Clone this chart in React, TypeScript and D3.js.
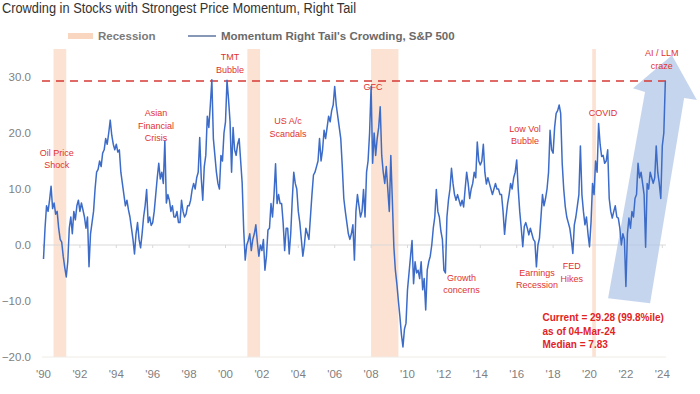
import React, { useEffect, useRef } from 'react';
import * as d3 from 'd3';

// monthly readings, Jan 1990 .. Mar 2024
const startYear = 1990;
const crowding = [
  // 1990
  -2.5, 3, 7, 6, 8, 10.5, 6.5, 7.5, 5.5, 6, 3, 1,
  // 1991
  0.5, -2, -4, -5.7, -3, 3, 5, 2, 6, 4.5, 7, 8,
  // 1992
  6, 7.5, 6.3, 5, 3, 5, -3.9, 2, 4, 6, 10, 13,
  // 1993
  13.5, 15, 14, 16.4, 17, 19, 18, 20, 22.3, 19.6, 18, 17,
  // 1994
  18, 16.6, 17, 13, 11, 9, 7, 8, 6.3, 5, 3, 1,
  // 1995
  -1.6, 2, 4, 1, -0.5, 2, 5, 7, 9.9, 4, 5, 3.5,
  // 1996
  4, 6, 9, 12, 14.6, 11.8, 13, 11, 18.6, 7.5, 9, 8,
  // 1997
  6, 7, 5, 5, 6, 4, 4, 8, 6, 5, 5.5, 7,
  // 1998
  7, 8, 9.9, 11, 10, 12, 13, 19.2, 12, 8, 14, 16,
  // 1999
  23, 21, 25, 29.5, 19, 16, 13, 11, 10, 16, 15, 20,
  // 2000
  22, 29.4, 26, 22, 13, 21, 17, 16, 18, 19, 15, 11,
  // 2001
  2.7, -2.7, 0, 0.8, 2, -1, 1, 2, 3.6, 0.5, -2, 0,
  // 2002
  -1, 1, -4.5, -2, 2.7, 3, 7.4, 5, 9, 14.5, 7.4, 9,
  // 2003
  7.4, 7.4, 4, -1, 3, 3, -1.6, 2, 8, 13, 11, 10,
  // 2004
  6, 4, 1, -2, 0, 3, 2, 1, 5, 9, 12.5, 13,
  // 2005
  14, 15, 19, 15, 17, 20.5, 19, 21, 23, 22, 24, 25,
  // 2006
  28.3, 25, 23, 21, 19, 14, 8.3, 6, 4, 2, 1, 2,
  // 2007
  3.6, -2.7, 6, 9, 7, 5, 6, 9.9, 5, 13, 15, 20,
  // 2008
  28.3, 14.6, 20, 16, 19, 21, 24.7, 16, 13, 11, 14, 10,
  // 2009
  6, 16, 8, -0.3, -4.5, -7, -10, -12.8, -16, -18.2, -15, -14,
  // 2010
  -8, -5, -2, 0.8, -6.9, -3, -5, -4.5, -6, -3, -8, -6,
  // 2011
  -11.6, -4.5, -3, -2, 0, 3, 5, 9.9, 6, 5, 2.5, 1,
  // 2012
  -4.5, -5, 5, 8, 10, 13.7, 11, 9, 8, 9, 8, 7,
  // 2013
  8, 6.8, 10, 13, 11, 8.3, 10, 11, 13, 12, 18.4, 15,
  // 2014
  14.3, 15, 18, 13, 10.9, 12, 11, 10, 9, 10, 11, 10,
  // 2015
  10, 9, 9, 6, 1.9, 5, 7.4, 9, 11, 10, 12, 13,
  // 2016
  15.2, 10, 6, 3, -0.3, 3.3, 4, 3, 1.8, 3, 2, 1,
  // 2017
  0.6, -3.9, 0, 1.2, 5, 9, 7, 8.3, 10, 13, 20.5, 17,
  // 2018
  16.4, 21, 23.5, 24, 25, 23.5, 14.6, 10, 6.9, 5, 4, 3,
  // 2019
  1, -1.5, 3.6, 5, 7, 9, 17.7, 9, 6, 3.6, 5, 2,
  // 2020
  -0.3, 4, 11, 9, 15, 13, 21.7, 18, 15.8, 16, 14.6, 15,
  // 2021
  17, 8.3, 6, 4.8, 6, 7, 5, 4.8, 3, 0, 2, 1,
  // 2022
  -7.4, 2, 4.8, 3, 6, 5, 8.3, 9, 14.6, 12, 13, 11,
  // 2023
  9, -0.4, 11, 10, 13, 12, 11, 12, 17.7, 13, 11, 8.3,
  // 2024
  17.7, 20, 29.28,
];

const recessions = [
  [1990.55, 1991.25],
  [2001.2, 2001.9],
  [2008.0, 2009.5],
  [2020.15, 2020.35],
];

const yTicks = [-20, -10, 0, 10, 20, 30];
const xTicks = [1990, 1992, 1994, 1996, 1998, 2000, 2002, 2004, 2006, 2008, 2010, 2012, 2014, 2016, 2018, 2020, 2022, 2024];
const currentValue = 29.28;
const summary = ['Current = 29.28 (99.8%ile)', 'as of 04-Mar-24', 'Median = 7.83'];

const notes = [
  { lines: ['Oil Price', 'Shock'], year: 1990.73, value: 15.9 },
  { lines: ['Asian', 'Financial', 'Crisis'], year: 1996.18, value: 23.0 },
  { lines: ['TMT', 'Bubble'], year: 2000.25, value: 33.0 },
  { lines: ['US A/c', 'Scandals'], year: 2003.43, value: 21.6 },
  { lines: ['GFC'], year: 2008.1, value: 27.7 },
  { lines: ['Growth', 'concerns'], year: 2012.97, value: -6.4 },
  { lines: ['Low Vol', 'Bubble'], year: 2016.46, value: 20.2 },
  { lines: ['Earnings', 'Recession'], year: 2017.12, value: -5.5 },
  { lines: ['FED', 'Hikes'], year: 2019.02, value: -4.3 },
  { lines: ['COVID'], year: 2020.74, value: 23.0 },
  { lines: ['AI / LLM', 'craze'], year: 2023.97, value: 33.75 },
];

// big translucent arrow, in year / value units
const arrowPts: [number, number][] = [
  [2021.02, -9.5], [2023.05, 27.3], [2022.39, 28.0], [2024.53, 33.9],
  [2025.9, 25.9], [2025.2, 26.25], [2023.33, -10.4],
];

const W = 700;
const H = 394;
const font = 'Arial, "Liberation Sans", sans-serif';

const App = () => {
  const ref = useRef<SVGSVGElement>(null);

  useEffect(() => {
    const svg = d3.select(ref.current);
    svg.selectAll('*').remove();

    const x = d3.scaleLinear().domain([1990, 2024]).range([43.5, 662.3]);
    const y = d3.scaleLinear().domain([-20, 30]).range([357, 77]);
    const left = 42;
    const right = 666;

    // title
    svg.append('text')
      .attr('x', 2).attr('y', 13)
      .attr('font-family', font).attr('font-size', 14)
      .attr('textLength', 354).attr('lengthAdjust', 'spacingAndGlyphs')
      .attr('fill', '#333')
      .text('Crowding in Stocks with Strongest Price Momentum, Right Tail');

    // legend
    svg.append('rect').attr('x', 68).attr('y', 33).attr('width', 25).attr('height', 6).attr('fill', '#f8d6c0');
    svg.append('text').attr('x', 98).attr('y', 40)
      .attr('font-family', font).attr('font-size', 11.5).attr('font-weight', 'bold')
      .attr('fill', '#7a7a7a').text('Recession');
    svg.append('line').attr('x1', 188).attr('x2', 216).attr('y1', 36).attr('y2', 36)
      .attr('stroke', '#44608f').attr('stroke-width', 1.3);
    svg.append('text').attr('x', 221).attr('y', 40)
      .attr('font-family', font).attr('font-size', 11.5).attr('font-weight', 'bold')
      .attr('fill', '#6a6a6a').text("Momentum Right Tail's Crowding, S&P 500");

    // recession bands
    svg.append('g').selectAll('rect').data(recessions).join('rect')
      .attr('x', d => x(d[0]))
      .attr('width', d => x(d[1]) - x(d[0]))
      .attr('y', 49)
      .attr('height', y(-20) - 49)
      .attr('fill', '#fbe2d2');

    // zero line + bottom line
    svg.append('line').attr('x1', left).attr('x2', right).attr('y1', y(0)).attr('y2', y(0))
      .attr('stroke', '#d9d9d9').attr('stroke-width', 1);
    svg.append('line').attr('x1', left).attr('x2', right).attr('y1', y(-20)).attr('y2', y(-20))
      .attr('stroke', '#f0ebe6').attr('stroke-width', 1);
    svg.append('g').selectAll('line').data(xTicks).join('line')
      .attr('x1', d => x(d)).attr('x2', d => x(d))
      .attr('y1', y(0)).attr('y2', y(0) + 3)
      .attr('stroke', '#d9d9d9');

    // y labels
    svg.append('g').selectAll('text').data(yTicks).join('text')
      .attr('x', 31).attr('y', d => y(d) + 4)
      .attr('text-anchor', 'end')
      .attr('font-family', font).attr('font-size', 11.5)
      .attr('fill', '#7f7f7f')
      .text(d => d3.format('.1f')(d));

    // x labels
    svg.append('g').selectAll('text').data(xTicks).join('text')
      .attr('x', d => x(d)).attr('y', 378)
      .attr('text-anchor', 'middle')
      .attr('font-family', font).attr('font-size', 11.5)
      .attr('fill', '#7f7f7f')
      .text(d => "'" + String(d).slice(2));

    // arrow
    svg.append('path')
      .attr('d', d3.line<[number, number]>().x(d => x(d[0])).y(d => y(d[1]))(arrowPts) + 'Z')
      .attr('fill', '#b3c7e8')
      .attr('opacity', 0.75);

    // current level dashed line
    svg.append('line').attr('x1', left).attr('x2', right)
      .attr('y1', y(currentValue)).attr('y2', y(currentValue))
      .attr('stroke', '#d63a35').attr('stroke-width', 1.6)
      .attr('stroke-dasharray', '8,6');

    // series
    const line = d3.line<number>()
      .x((d, i) => x(startYear + i / 12))
      .y(d => y(d));
    svg.append('path')
      .datum(crowding)
      .attr('d', line)
      .attr('fill', 'none')
      .attr('stroke', '#3c6cc8')
      .attr('stroke-width', 1.5)
      .attr('stroke-linejoin', 'round');

    // annotations
    const ann = svg.append('g')
      .attr('font-family', font).attr('font-size', 9)
      .attr('fill', '#e0332f').attr('text-anchor', 'middle');
    notes.forEach(n => {
      n.lines.forEach((s, i) => {
        ann.append('text')
          .attr('x', x(n.year))
          .attr('y', y(n.value) + i * 12.5)
          .text(s);
      });
    });

    const sum = svg.append('g')
      .attr('font-family', font).attr('font-size', 10).attr('font-weight', 'bold')
      .attr('fill', '#e2231f');
    summary.forEach((s, i) => {
      sum.append('text').attr('x', 542.5).attr('y', 321 + i * 13.5).text(s);
    });
  }, []);

  return (
    <svg
      ref={ref}
      width={W}
      height={H}
      style={{ position: 'absolute', left: 0, top: 0, background: '#fff' }}
    />
  );
};

export default App;
